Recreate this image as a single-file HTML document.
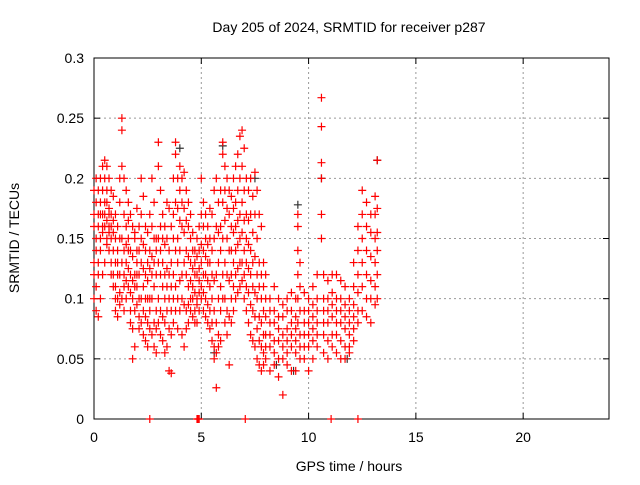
<!DOCTYPE html>
<html><head><meta charset="utf-8"><style>
body{margin:0;background:#fff}
svg text{font-family:"Liberation Sans",sans-serif;font-size:14px;fill:#000}
</style></head><body>
<svg id="chart" width="640" height="480">
<rect width="640" height="480" fill="#fff"/>
<text x="349" y="32" text-anchor="middle">Day 205 of 2024, SRMTID for receiver p287</text>
<text x="349" y="471" text-anchor="middle">GPS time / hours</text>
<text transform="translate(19,238) rotate(-90)" text-anchor="middle">SRMTID / TECUs</text>
<g id="grid"></g><g id="axes"></g><g id="marks"></g>
</svg>
<script>
const xTicks=[0,5,10,15,20];
const yTicks=[0,0.05,0.1,0.15,0.2,0.25,0.3];
const yTickLabels=["0","0.05","0.1","0.15","0.2","0.25","0.3"];
const times=[0,0.1,0.2,0.3,0.4,0.5,0.6,0.7,0.8,0.9,1.0,1.1,1.2,1.3,1.4,1.5,1.6,1.7,1.8,1.9,2.0,2.1,2.2,2.3,2.4,2.5,2.6,2.7,2.8,2.9,3.0,3.1,3.2,3.3,3.4,3.5,3.6,3.7,3.8,3.9,4.0,4.1,4.2,4.3,4.4,4.5,4.6,4.7,4.8,4.9,5.0,5.1,5.2,5.3,5.4,5.5,5.6,5.7,5.8,5.9,6.0,6.1,6.2,6.3,6.4,6.5,6.6,6.7,6.8,6.9,7.0,7.1,7.2,7.3,7.4,7.5,7.6,7.7,7.8,7.9,8.0,8.2,8.4,8.6,8.8,9.0,9.2,9.4,9.5,9.6,9.8,10.0,10.2,10.4,10.6,10.7,10.9,11.1,11.3,11.5,11.7,11.9,12.1,12.3,12.5,12.7,12.9,13.1,13.2];
const values=[
[.19,.17,.13,.12,.10,.16],[.18,.15,.11,.09,.14,.2],[.17,.19,.16,.13,.085,.12],[.2,.18,.15,.17,.1,.14],[.21,.19,.16,.17,.12,.155],
[.215,.2,.17,.16,.13,.18],[.21,.18,.165,.15,.145,.19],[.2,.175,.16,.17,.14,.155],[.19,.17,.16,.15,.13,.12],[.185,.165,.155,.14,.12,.11],
[.17,.15,.13,.11,.09,.1],[.16,.14,.12,.1,.085,.13],[.2,.15,.12,.105,.095,.18],[.25,.24,.21,.15,.13,.1],[.2,.17,.14,.12,.11,.09],
[.19,.16,.13,.115,.1,.145],[.18,.15,.125,.11,.14,.165],[.17,.14,.12,.105,.09,.08],[.16,.135,.115,.1,.075,.05],[.15,.12,.11,.09,.06,.155],
[.175,.13,.11,.095,.14,.12],[.16,.14,.12,.1,.085,.075],[.2,.15,.13,.1,.08,.17],[.185,.145,.125,.11,.07,.09],[.16,.14,.12,.1,.085,.065],
[.155,.13,.115,.1,.08,.06],[.17,.14,.125,.1,.09,.075],[.2,.16,.135,.12,.1,.07],[.18,.15,.13,.11,.08,.06],[.15,.14,.12,.09,.075,.055],
[.23,.21,.15,.13,.1,.08],[.19,.16,.14,.12,.09,.07],[.17,.15,.13,.11,.085,.065],[.16,.145,.12,.1,.08,.055],[.18,.15,.125,.11,.09,.06],
[.175,.14,.12,.1,.075,.04],[.16,.13,.11,.09,.07,.038],[.2,.17,.15,.12,.1,.08],[.23,.22,.18,.14,.11,.09],[.2,.175,.15,.13,.1,.075],
[.21,.19,.165,.14,.115,.09],[.2,.18,.16,.12,.1,.07],[.205,.175,.155,.13,.095,.06],[.19,.165,.14,.12,.09,.075],[.18,.16,.135,.11,.095,.08],
[.17,.15,.13,.115,.1,.09],[.155,.14,.125,.11,.1,.085],[.14,.13,.12,.105,.09,.08],[.15,.135,.12,.1,.095,.08],[.16,.14,.125,.115,.105,.09],
[.2,.17,.145,.13,.11,.1],[.18,.16,.14,.12,.105,.09],[.17,.15,.135,.12,.1,.085],[.16,.145,.13,.115,.095,.08],[.175,.15,.13,.11,.09,.075],
[.17,.14,.12,.1,.08,.065],[.19,.15,.115,.09,.06,.05],[.2,.16,.12,.08,.055,.026],[.18,.155,.13,.1,.07,.06],[.19,.16,.14,.11,.09,.065],
[.23,.22,.18,.15,.12,.1],[.21,.19,.165,.13,.1,.08],[.2,.175,.15,.12,.09,.07],[.19,.17,.14,.115,.085,.045],[.185,.16,.14,.12,.1,.08],
[.2,.175,.155,.13,.11,.09],[.21,.18,.16,.14,.12,.1],[.22,.19,.165,.145,.125,.105],[.235,.2,.17,.15,.13,.11],[.24,.21,.18,.155,.13,.115],
[.225,.19,.165,.14,.12,.1],[.2,.17,.15,.13,.11,.09],[.19,.165,.145,.125,.105,.08],[.2,.17,.14,.12,.095,.07],[.185,.155,.13,.11,.09,.065],
[.205,.17,.135,.105,.085,.06],[.19,.15,.12,.1,.075,.05],[.17,.13,.11,.085,.065,.045],[.16,.12,.1,.08,.06,.04],[.13,.11,.09,.07,.055,.045],
[.12,.1,.085,.07,.06,.05],[.1,.09,.08,.07,.06,.04],[.11,.09,.08,.065,.055,.045],[.1,.085,.075,.065,.05,.035],[.095,.085,.07,.06,.05,.02],
[.1,.09,.075,.065,.055,.045],[.105,.09,.08,.07,.06,.04],[.1,.085,.075,.065,.055,.04],[.17,.16,.14,.12,.1,.08],[.13,.11,.09,.07,.06,.05],
[.105,.09,.08,.07,.06,.05],[.1,.09,.08,.07,.06,.04],[.11,.095,.085,.075,.065,.05],[.12,.1,.09,.08,.07,.06],[.267,.243,.213,.2,.17,.15],
[.12,.1,.09,.08,.07,.055],[.115,.1,.09,.08,.065,.05],[.12,.105,.095,.085,.07,.06],[.12,.1,.09,.08,.07,.055],[.115,.1,.09,.08,.065,.05],
[.11,.095,.085,.075,.06,.05],[.1,.09,.08,.07,.06,.055],[.13,.11,.095,.085,.075,.065],[.16,.14,.12,.105,.09,.08],[.19,.17,.15,.13,.11,.09],
[.18,.16,.14,.12,.1,.085],[.17,.155,.135,.115,.1,.08],[.185,.17,.15,.13,.11,.095],[.215,.175,.155,.14,.12,.1]];
const zeroTimes=[2.6,4.8,4.85,4.9,7.05,11.05,12.3];
const darkTimes=[4.0,6.0,9.5,10.6,13.2,7.5,9.3,11.8,5.6,8.5];
const darkValues=[.225,.227,.178,.2,.215,.2,.04,.05,.055,.045];

const X0=94,X1=609,Y0=419,Y1=58;
const xs=h=>X0+(X1-X0)*h/24;
const ys=v=>Y0-(Y0-Y1)*v/0.3;
const NS="http://www.w3.org/2000/svg";
function mk(tag,attrs,parent){const e=document.createElementNS(NS,tag);for(const k in attrs)e.setAttribute(k,attrs[k]);parent.appendChild(e);return e;}
const grid=document.getElementById('grid'),axes=document.getElementById('axes'),marks=document.getElementById('marks');
xTicks.forEach(t=>{
  if(t>0){const g=mk('line',{x1:xs(t),x2:xs(t),y1:Y0,y2:Y1,stroke:'#999','stroke-dasharray':'2,3'},grid);
  
  }
  mk('line',{x1:xs(t),x2:xs(t),y1:Y0,y2:Y0-6,stroke:'#000'},axes);
  mk('line',{x1:xs(t),x2:xs(t),y1:Y1,y2:Y1+6,stroke:'#000'},axes);
  const l=mk('text',{x:xs(t),y:Y0+23,'text-anchor':'middle'},axes);l.textContent=t;
  
  
});
yTicks.forEach((t,i)=>{
  if(t>0&&t<0.3){const g=mk('line',{x1:X0,x2:X1,y1:ys(t),y2:ys(t),stroke:'#999','stroke-dasharray':'2,3'},grid);
  
  }
  mk('line',{x1:X0,x2:X0+6,y1:ys(t),y2:ys(t),stroke:'#000'},axes);
  mk('line',{x1:X1,x2:X1-6,y1:ys(t),y2:ys(t),stroke:'#000'},axes);
  const l=mk('text',{x:X0-10,y:ys(t)+5,'text-anchor':'end'},axes);l.textContent=yTickLabels[i];
  
  
});
const fr=mk('rect',{x:X0,y:Y1,width:X1-X0,height:Y0-Y1,fill:'none',stroke:'#000'},axes);


function plus(h,v,color){
  const x=xs(h),y=ys(v);
  const p=mk('path',{d:`M${x-4},${y}H${x+4}M${x},${y-4}V${y+4}`,stroke:color,'stroke-width':1.2,fill:'none'},marks);
  
  
}
darkTimes.forEach((h,i)=>plus(h,darkValues[i],'#333'));
times.forEach((h,i)=>values[i].forEach(v=>plus(h,v,'#f00')));
zeroTimes.forEach(h=>plus(h,0,'#f00'));
</script>
</body></html>
